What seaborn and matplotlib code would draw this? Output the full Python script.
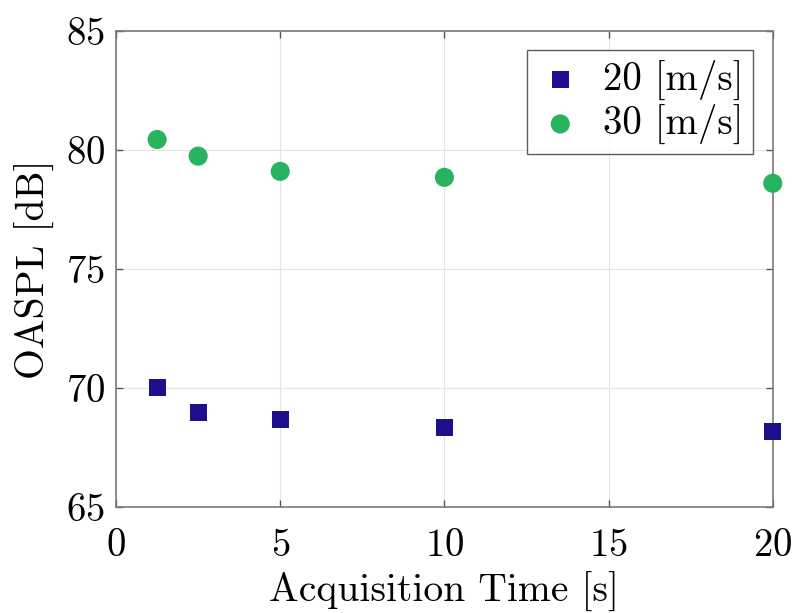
import matplotlib
matplotlib.use("Agg")
import matplotlib.pyplot as plt
import seaborn as sns
import pandas as pd

acq_time = [1.25, 2.5, 5, 10, 20]
oaspl_20 = [70.02, 68.97, 68.68, 68.35, 68.17]
oaspl_30 = [80.44, 79.74, 79.10, 78.85, 78.60]
series_labels = ["20 [m/s]", "30 [m/s]"]

df = pd.DataFrame({
    "t": acq_time * 2,
    "y": oaspl_20 + oaspl_30,
    "s": [series_labels[0]] * len(acq_time) + [series_labels[1]] * len(acq_time),
})

sns.set_style("whitegrid")
plt.rcParams["font.family"] = ["cmr10", "DejaVu Serif"]
plt.rcParams["mathtext.fontset"] = "cm"
plt.rcParams["axes.formatter.use_mathtext"] = True
plt.rcParams["text.color"] = "black"
plt.rcParams["axes.labelcolor"] = "black"
plt.rcParams["xtick.color"] = "black"
plt.rcParams["ytick.color"] = "black"

fig = plt.figure(figsize=(7.95, 6.13), dpi=100)
ax = fig.add_axes([0.146, 0.173, 0.826, 0.7765])

palette = {series_labels[0]: "#1e0f8c", series_labels[1]: "#28b45e"}
markers = {series_labels[0]: "s", series_labels[1]: "o"}
sizes = {series_labels[0]: 150, series_labels[1]: 190}

for lab in series_labels:
    sub = df[df["s"] == lab]
    sns.scatterplot(data=sub, x="t", y="y", color=palette[lab], marker=markers[lab],
                    s=sizes[lab], edgecolor="none", label=lab, ax=ax, zorder=3,
                    clip_on=False)

ax.set_xlim(0, 20)
ax.set_ylim(65, 85)
ax.set_xticks([0, 5, 10, 15, 20])
ax.set_yticks([65, 70, 75, 80, 85])
ax.set_xlabel("Acquisition Time [s]", fontsize=28.5, labelpad=6)
ax.set_ylabel("OASPL [dB]", fontsize=28.5, labelpad=8)
ax.tick_params(axis="both", labelsize=28, direction="in", length=5, width=1,
               color="#555555", labelcolor="black",
               left=True, bottom=True, top=True, right=True)
ax.tick_params(axis="x", pad=15)
ax.tick_params(axis="y", pad=8)
ax.grid(True, color="#e3e3e3", linewidth=0.8)
for sp in ax.spines.values():
    sp.set_color("#7a7a7a")
    sp.set_linewidth(1.2)

leg = ax.legend(loc="upper right", fontsize=28, frameon=True, fancybox=False,
                borderaxespad=0.5, handletextpad=0.5, handlelength=1.2,
                borderpad=0.25, labelspacing=0.1)
leg.get_frame().set_edgecolor("#333333")
leg.get_frame().set_linewidth(1.0)

fig.savefig("out.png", dpi=100)
